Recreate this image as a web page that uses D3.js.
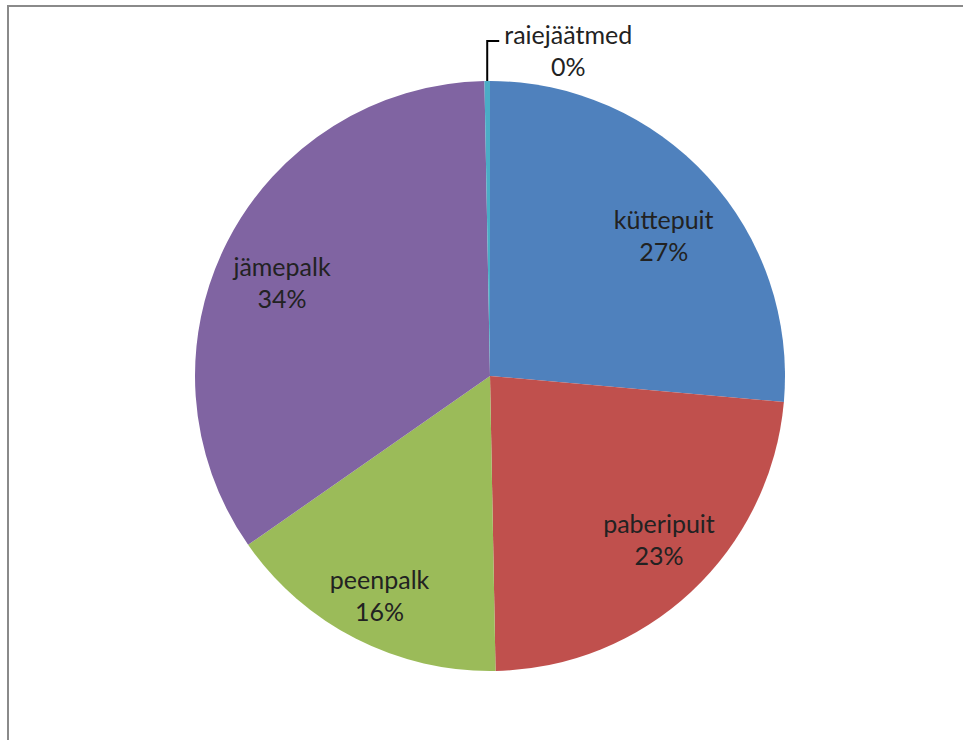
<!DOCTYPE html>
<html>
<head>
<meta charset="utf-8">
<script src="https://cdn.jsdelivr.net/npm/d3@7"></script>
<style>
  html, body { margin: 0; padding: 0; background: #fff; }
  svg { display: block; }
  text { font-family: Lato, "Open Sans", sans-serif; }
</style>
</head>
<body>
<svg id="chart" width="963" height="740"></svg>
<script>
// Data (clockwise from 12 o'clock)
const categories = ["küttepuit", "paberipuit", "peenpalk", "jämepalk", "raiejäätmed"];
const values = [26.4, 23.3, 15.6, 34.4, 0.3];
const percentLabels = ["27%", "23%", "16%", "34%", "0%"];
const colors = ["#4F81BD", "#C0504D", "#9BBB59", "#8064A2", "#4BACC6"];

// Layout
const W = 963, H = 740;
const cx = 490, cy = 376, R = 295;
const fontSize = 25, lineGap = 32;
// label nudges relative to arc centroid (layout only)
const labelNudge = [[4, 8], [12, -11], [-6, 8], [-3, 4], [0, 0]];

const svg = d3.select("#chart");

// frame
svg.append("rect")
  .attr("x", 8).attr("y", 6)
  .attr("width", W + 20).attr("height", H + 20)
  .attr("fill", "#fff")
  .attr("stroke", "#8a8a8a")
  .attr("stroke-width", 2);

const data = categories.map((c, i) => ({ name: c, value: values[i], label: percentLabels[i], color: colors[i] }));

const pie = d3.pie().value(d => d.value).sort(null);
const arcs = pie(data);
const arc = d3.arc().innerRadius(0).outerRadius(R);
const labelArc = d3.arc().innerRadius(R * 0.78).outerRadius(R * 0.78);

const g = svg.append("g").attr("transform", `translate(${cx},${cy})`);

g.selectAll("path.slice")
  .data(arcs)
  .join("path")
  .attr("class", "slice")
  .attr("d", arc)
  .attr("fill", d => d.data.color);

// inside labels
arcs.forEach((a, i) => {
  if (a.data.value < 1) return;
  const [x0, y0] = labelArc.centroid(a);
  const x = x0 + labelNudge[i][0];
  const y = y0 + labelNudge[i][1];
  const t = g.append("text")
    .attr("text-anchor", "middle")
    .attr("font-size", fontSize)
    .attr("fill", "#222");
  t.append("tspan").attr("x", x).attr("y", y).text(a.data.name);
  t.append("tspan").attr("x", x).attr("y", y + lineGap).text(a.data.label);
});

// small slice label with leader line
arcs.forEach(a => {
  if (a.data.value >= 1) return;
  const mid = (a.startAngle + a.endAngle) / 2;
  const px = R * Math.sin(mid), py = -R * Math.cos(mid);
  const topY = -R - 40;
  g.append("path")
    .attr("d", `M${px},${py} L${px},${topY} L${px + 12},${topY}`)
    .attr("fill", "none")
    .attr("stroke", "#000")
    .attr("stroke-width", 2);
  const lx = px + 81;
  const t = g.append("text")
    .attr("text-anchor", "middle")
    .attr("font-size", fontSize)
    .attr("fill", "#222");
  t.append("tspan").attr("x", lx).attr("y", topY + 3).text(a.data.name);
  t.append("tspan").attr("x", lx).attr("y", topY + 3 + lineGap).text(a.data.label);
});
</script>
</body>
</html>
